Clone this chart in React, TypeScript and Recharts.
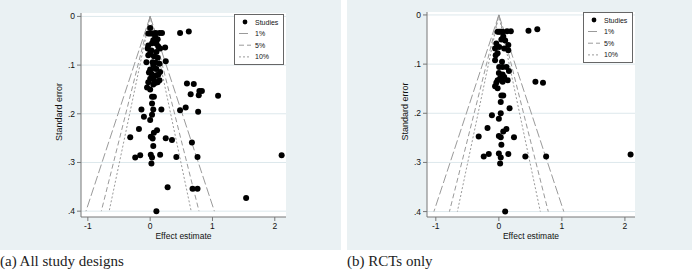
import React from 'react';
import { ScatterChart, Scatter, XAxis, YAxis, CartesianGrid, ReferenceLine, Legend } from 'recharts';

// Panel (a): all study designs — effect estimates and standard errors
const allEffect = [
  0.0, 0.48, 0.62,
  -0.03, 0.0, 0.03, 0.06, 0.09, 0.15, 0.19,
  0.08, 0.05, 0.12, 0.03,
  -0.03, 0.10, 0.16, 0.24, 0.02, -0.04, 0.10, 0.13,
  -0.03, 0.06, 0.0, 0.12,
  0.25, -0.06, 0.04, 0.15, 0.05, 0.09,
  0.0, 0.08, 0.16, 0.02, 0.10, 0.0, 0.06, 0.15, -0.03, 0.08, -0.05, 0.0, 0.12, 0.04, 0.10, -0.02, 0.13, 0.05,
  0.59, 0.70,
  0.79, 0.83, 0.65, 0.78, 1.09,
  0.03, 0.06, 0.03,
  -0.14, 0.05, 0.18, 0.48, 0.57, 0.77,
  -0.10, 0.03, 0.0,
  -0.18, 0.11, 0.06,
  -0.32, 0.01, 0.04, 0.25, 0.35, 0.67,
  0.05,
  -0.16, 0.01, 0.16, -0.24, 0.03, 0.42, 0.76, 2.11,
  0.02,
  0.28, 0.68, 0.76,
  1.54,
  0.10,
];
const allSE = [
  0.024, 0.034, 0.031,
  0.035, 0.035, 0.035, 0.035, 0.034, 0.034, 0.034,
  0.042, 0.049, 0.047, 0.055,
  0.060, 0.056, 0.066, 0.064, 0.070, 0.066, 0.073, 0.062,
  0.080, 0.082, 0.075, 0.085,
  0.092, 0.094, 0.094, 0.097, 0.100, 0.095,
  0.109, 0.107, 0.114, 0.118, 0.121, 0.128, 0.130, 0.131, 0.135, 0.137, 0.146, 0.150, 0.135, 0.125, 0.108, 0.115, 0.120, 0.140,
  0.138, 0.139,
  0.153, 0.153, 0.160, 0.162, 0.163,
  0.165, 0.165, 0.179,
  0.191, 0.191, 0.191, 0.193, 0.187, 0.196,
  0.206, 0.202, 0.213,
  0.231, 0.234, 0.239,
  0.248, 0.247, 0.251, 0.250, 0.254, 0.259,
  0.266,
  0.285, 0.284, 0.284, 0.290, 0.290, 0.289, 0.289, 0.285,
  0.302,
  0.351, 0.354, 0.354,
  0.373,
  0.400,
];

// Panel (b): RCTs only
const rctEffect = [
  -0.02, 0.005, 0.03, 0.06, 0.13, 0.19,
  0.47, 0.61,
  0.07, 0.04, 0.10, -0.04, 0.15, 0.005, -0.06, 0.085, 0.15, -0.02, -0.05, -0.06, 0.05,
  0.005, 0.06, 0.12, 0.16, 0.0, 0.06, 0.085, 0.02, 0.14, -0.02, -0.04, 0.06, -0.06, -0.02,
  0.58, 0.70,
  0.04, 0.07, 0.03,
  0.17,
  -0.11, 0.03, 0.0,
  -0.18, 0.12, 0.07,
  -0.32, 0.0, 0.03, 0.24,
  0.04,
  -0.16, 0.0, 0.15, -0.24, 0.03, 0.42, 0.75, 2.09,
  0.02,
  0.10,
];
const rctSE = [
  0.034, 0.034, 0.034, 0.034, 0.033, 0.033,
  0.032, 0.029,
  0.044, 0.050, 0.052, 0.058, 0.061, 0.065, 0.068, 0.068, 0.072, 0.078, 0.082, 0.092, 0.095,
  0.106, 0.106, 0.106, 0.114, 0.118, 0.121, 0.126, 0.129, 0.133, 0.133, 0.138, 0.136, 0.145, 0.149,
  0.136, 0.138,
  0.164, 0.164, 0.177,
  0.190,
  0.204, 0.200, 0.211,
  0.230, 0.232, 0.237,
  0.247, 0.246, 0.249, 0.249,
  0.264,
  0.283, 0.282, 0.283, 0.288, 0.290, 0.288, 0.288, 0.284,
  0.302,
  0.400,
];

const xTicks = [-1, 0, 1, 2];
const yTicks = [0, 0.1, 0.2, 0.3, 0.4];
const contourLabels = ['1%', '5%', '10%'];
const contourZ = [2.576, 1.96, 1.645];
const seMax = 0.4;

// styles
const contourDash = ['9 3', '5 3', '2 2'];
const BG = '#EAF1F3';
const GRID = '#DDE8EC';
const LINE_GRAY = '#9A9A9A';
const SANS = '"Liberation Sans", Arial, sans-serif';

const fmtY = (v: number) => (v === 0 ? '0' : String(v).replace(/^0/, ''));

const LegendBox = () => (
  <svg width={50} height={51} style={{ display: 'block' }}>
    <rect x={0.5} y={0.5} width={49} height={50} fill="#fff" stroke="#666" strokeWidth={1} />
    <circle cx={11} cy={8} r={2.4} fill="#000" />
    <text x={21} y={8} fontSize={7} fontFamily={SANS} dominantBaseline="central" fill="#111">Studies</text>
    {contourLabels.map((lab, i) => (
      <g key={lab}>
        <line x1={5} x2={17} y1={19.5 + i * 11.7} y2={19.5 + i * 11.7} stroke={LINE_GRAY} strokeDasharray={contourDash[i]} />
        <text x={21} y={19.5 + i * 11.7} fontSize={7} fontFamily={SANS} dominantBaseline="central" fill="#111">{lab}</text>
      </g>
    ))}
  </svg>
);

const YTitle = (props: any) => {
  const vb = props.viewBox || {};
  const cx = (vb.x ?? 0) + (vb.width ?? 0) - 22;
  const cy = (vb.y ?? 0) + (vb.height ?? 0) / 2 - 3;
  return (
    <text x={cx} y={cy} transform={`rotate(-90 ${cx} ${cy})`} textAnchor="middle" dominantBaseline="central"
      fontSize={9} fontFamily={SANS} fill="#111">Standard error</text>
  );
};

const XTitle = (props: any) => {
  const vb = props.viewBox || {};
  const cx = (vb.x ?? 0) + (vb.width ?? 0) / 2;
  const cy = (vb.y ?? 0) + 19;
  return (
    <text x={cx} y={cy} textAnchor="middle" dominantBaseline="central" fontSize={8.5} fontFamily={SANS} fill="#111">Effect estimate</text>
  );
};

type PanelProps = {
  effect: number[];
  se: number[];
  width: number;
  yAxisWidth: number;
  rightMargin: number;
  xDomain: [number, number];
  yDomain: [number, number];
  top: number;
  legendLeft: number;
  legendTop: number;
};

const Panel = (p: PanelProps) => {
  const data = p.effect.map((x, i) => ({ x, y: p.se[i] }));
  return (
    <ScatterChart width={p.width} height={250} margin={{ top: p.top, right: p.rightMargin, left: 0, bottom: 0 }}>
      <CartesianGrid vertical={false} stroke={GRID} fill="#fff" horizontalValues={yTicks} />
      <XAxis type="number" dataKey="x" domain={p.xDomain} ticks={xTicks} allowDataOverflow height={33}
        tick={{ fontSize: 8.5, fontFamily: SANS, fill: '#111' }} tickSize={4}
        axisLine={{ stroke: '#777' }} tickLine={{ stroke: '#777' }} label={<XTitle />} />
      <YAxis type="number" dataKey="y" reversed domain={p.yDomain} ticks={yTicks} allowDataOverflow width={p.yAxisWidth}
        tickFormatter={fmtY} tick={{ fontSize: 8.5, fontFamily: SANS, fill: '#111' }} tickSize={4}
        axisLine={{ stroke: '#777' }} tickLine={{ stroke: '#777' }} label={<YTitle />} />
      {contourZ.map((z, i) => (
        <ReferenceLine key={'l' + i} segment={[{ x: 0, y: 0 }, { x: -z * seMax, y: seMax }]}
          stroke={LINE_GRAY} strokeDasharray={contourDash[i]} strokeWidth={1} />
      ))}
      {contourZ.map((z, i) => (
        <ReferenceLine key={'r' + i} segment={[{ x: 0, y: 0 }, { x: z * seMax, y: seMax }]}
          stroke={LINE_GRAY} strokeDasharray={contourDash[i]} strokeWidth={1} />
      ))}
      <Scatter data={data} isAnimationActive={false}
        shape={(s: any) => <circle cx={s.cx} cy={s.cy} r={3} fill="#000" />} />
      <Legend layout="horizontal" verticalAlign="middle" align="center"
        wrapperStyle={{ top: p.legendTop, left: p.legendLeft, width: 50, height: 51 }}
        content={() => <LegendBox />} />
    </ScatterChart>
  );
};

export default function App() {
  return (
    <div style={{ position: 'absolute', left: 0, top: 0, width: 692, height: 273, background: '#fff', overflow: 'hidden' }}>
      <div style={{ position: 'absolute', left: 0, top: 0, width: 341, height: 250, background: BG }}>
        <Panel effect={allEffect} se={allSE} width={341} yAxisWidth={81} rightMargin={55}
          xDomain={[-1.11, 2.18]} yDomain={[-0.007, 0.412]} top={13} legendLeft={234} legendTop={14} />
      </div>
      <div style={{ position: 'absolute', left: 347, top: 0, width: 345, height: 250, background: BG }}>
        <Panel effect={rctEffect} se={rctSE} width={345} yAxisWidth={80} rightMargin={57}
          xDomain={[-1.14, 2.16]} yDomain={[-0.006, 0.411]} top={12} legendLeft={236} legendTop={12} />
      </div>
      <div style={{ position: 'absolute', left: 0, top: 253, fontFamily: '"Liberation Serif", "Times New Roman", serif', fontSize: 15, color: '#222', whiteSpace: 'nowrap' }}>
        (a) All study designs
      </div>
      <div style={{ position: 'absolute', left: 347, top: 253, fontFamily: '"Liberation Serif", "Times New Roman", serif', fontSize: 15, color: '#222', whiteSpace: 'nowrap' }}>
        (b) RCTs only
      </div>
    </div>
  );
}
